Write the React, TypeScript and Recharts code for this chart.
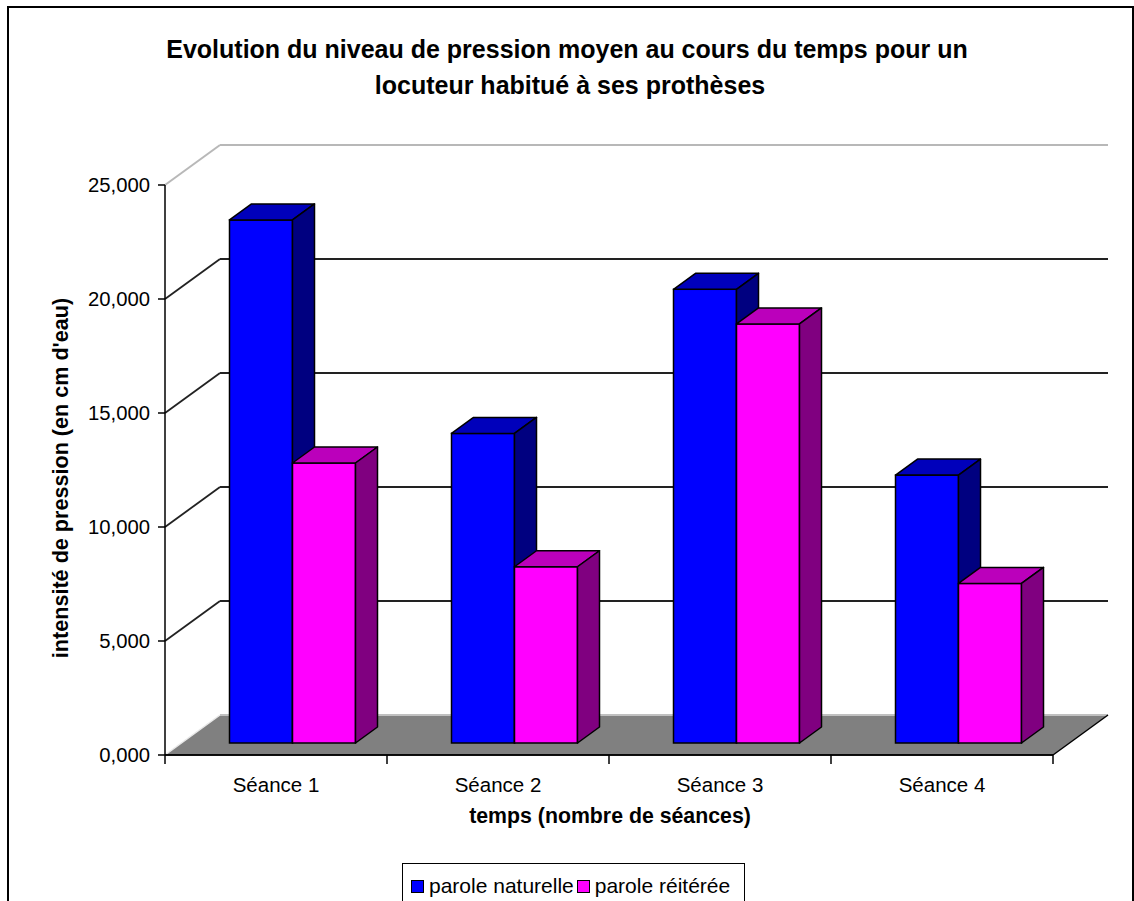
import React from 'react';
import { BarChart, Bar, XAxis, YAxis, ReferenceLine, Legend, Customized } from 'recharts';

const categories = ['Séance 1', 'Séance 2', 'Séance 3', 'Séance 4'];
const paroleNaturelle = [22.94, 13.58, 19.9, 11.75];
const paroleReiteree = [12.28, 7.73, 18.38, 7.0];
const yTicks = [0, 5, 10, 15, 20, 25];
const gridValues = [5, 10, 15, 20];
const seriesNames = ['parole naturelle', 'parole réitérée'];

const data = categories.map((c, i) => ({
  name: c,
  naturelle: paroleNaturelle[i],
  reiteree: paroleReiteree[i],
}));

const DX = 55;
const DY = 40;
const BAR_START = 0.3;
const BAR_DEPTH = 0.4;
const FONT = '"Liberation Sans", Arial, Helvetica, sans-serif';

const fmt = (v: number) => v.toFixed(3).replace('.', ',');

function make3DBar(front: string, top: string, side: string) {
  return (props: any) => {
    const { x, y, width, height } = props;
    if ([x, y, width, height].some((v) => typeof v !== 'number' || isNaN(v))) return <g />;
    const X = x + DX * BAR_START;
    const Y = y - DY * BAR_START;
    const bx = DX * BAR_DEPTH;
    const by = DY * BAR_DEPTH;
    const W = width;
    const H = height;
    return (
      <g>
        <rect x={X} y={Y} width={W} height={H} fill={front} stroke="#000" strokeWidth={1.5} />
        <polygon
          points={`${X},${Y} ${X + W},${Y} ${X + W + bx},${Y - by} ${X + bx},${Y - by}`}
          fill={top}
          stroke="#000"
          strokeWidth={1.5}
          strokeLinejoin="round"
        />
        <polygon
          points={`${X + W},${Y} ${X + W + bx},${Y - by} ${X + W + bx},${Y + H - by} ${X + W},${Y + H}`}
          fill={side}
          stroke="#000"
          strokeWidth={1.5}
          strokeLinejoin="round"
        />
      </g>
    );
  };
}

const wallLine = (color: string, w: number) => (p: any) => {
  const left = Math.min(p.x1, p.x2);
  const right = Math.max(p.x1, p.x2);
  const y = p.y1;
  return (
    <g>
      <line x1={left} y1={y} x2={left + DX} y2={y - DY} stroke={color} strokeWidth={w} />
      <line x1={left + DX} y1={y - DY} x2={right + DX} y2={y - DY} stroke={color} strokeWidth={w} />
    </g>
  );
};

const floorShape = (p: any) => {
  const left = Math.min(p.x1, p.x2);
  const right = Math.max(p.x1, p.x2);
  const y = p.y1;
  const n = categories.length;
  const ticks = [];
  for (let i = 0; i <= n; i++) {
    const tx = left + (i * (right - left)) / n;
    ticks.push(<line key={i} x1={tx} y1={y} x2={tx} y2={y + 9} stroke="#000" strokeWidth={1.5} />);
  }
  return (
    <g>
      <polygon
        points={`${left},${y} ${right},${y} ${right + DX},${y - DY} ${left + DX},${y - DY}`}
        fill="#808080"
      />
      <line x1={left} y1={y} x2={left + DX} y2={y - DY} stroke="#e8e8e8" strokeWidth={1.5} />
      <line x1={left + DX} y1={y - DY} x2={right + DX} y2={y - DY} stroke="#c0c0c0" strokeWidth={2} />
      <line x1={right} y1={y} x2={right + DX} y2={y - DY} stroke="#000" strokeWidth={1.5} />
      <line x1={left} y1={y} x2={right} y2={y} stroke="#000" strokeWidth={1.5} />
      {ticks}
    </g>
  );
};

const Titles = () => (
  <g fontFamily={FONT} fill="#000">
    <text x={567} y={58} textAnchor="middle" fontWeight="bold" fontSize={25}>
      Evolution du niveau de pression moyen au cours du temps pour un
    </text>
    <text x={570} y={94} textAnchor="middle" fontWeight="bold" fontSize={25}>
      locuteur habitué à ses prothèses
    </text>
    <text x={610} y={823} textAnchor="middle" fontWeight="bold" fontSize={21.3}>
      temps (nombre de séances)
    </text>
    <text
      x={68}
      y={478}
      textAnchor="middle"
      fontWeight="bold"
      fontSize={21.6}
      transform="rotate(-90, 68, 478)"
    >
      intensité de pression (en cm d'eau)
    </text>
  </g>
);

const LegendContent = (props: any) => {
  const payload = props.payload || [];
  return (
    <div
      style={{
        boxSizing: 'border-box',
        width: '100%',
        height: '100%',
        border: '1.5px solid #000',
        background: '#fff',
        display: 'flex',
        alignItems: 'flex-start',
        paddingLeft: 8,
        paddingTop: 10,
        fontFamily: FONT,
        fontSize: 21,
        lineHeight: '24px',
        color: '#000',
        whiteSpace: 'nowrap',
      }}
    >
      {payload.map((item: any, i: number) => (
        <span key={i} style={{ display: 'flex', alignItems: 'center', marginRight: 3 }}>
          <span
            style={{
              display: 'inline-block',
              width: 11,
              height: 11,
              background: item.color,
              border: '1px solid #000',
              marginRight: 5,
            }}
          />
          <span>{item.value}</span>
        </span>
      ))}
    </div>
  );
};

export default function App() {
  return (
    <div
      style={{
        position: 'absolute',
        left: 0,
        top: 0,
        width: 1134,
        height: 901,
        background: '#fff',
        overflow: 'hidden',
      }}
    >
      <div
        style={{
          position: 'absolute',
          left: 7,
          top: 6,
          width: 1127,
          height: 1000,
          boxSizing: 'border-box',
          border: '2px solid #000',
        }}
      />
      <div style={{ position: 'absolute', left: 0, top: 0 }}>
        <BarChart
          width={1134}
          height={901}
          data={data}
          margin={{ top: 185, right: 81, bottom: 86, left: 65 }}
          barCategoryGap={48}
          barGap={0}
        >
          <XAxis
            dataKey="name"
            height={60}
            tickLine={false}
            tickSize={0}
            tickMargin={22}
            axisLine={{ stroke: '#000', strokeWidth: 1.5 }}
            tick={{ fill: '#000', fontSize: 20.5, fontFamily: FONT }}
            interval={0}
          />
          <YAxis
            width={100}
            domain={[0, 25]}
            ticks={yTicks}
            tickFormatter={fmt}
            tickSize={7}
            tickMargin={8}
            axisLine={{ stroke: '#000', strokeWidth: 1.5 }}
            tickLine={{ stroke: '#000', strokeWidth: 1.5 }}
            tick={{ fill: '#000', fontSize: 20.3, fontFamily: FONT }}
            allowDataOverflow
          />
          <ReferenceLine y={0} shape={floorShape} zIndex={-50} />
          {gridValues.map((v) => (
            <ReferenceLine key={v} y={v} shape={wallLine('#222', 1.8)} zIndex={-50} />
          ))}
          <ReferenceLine y={25} shape={wallLine('#b8b8b8', 2)} zIndex={-50} />
          <Bar
            dataKey="naturelle"
            name={seriesNames[0]}
            fill="#0000FF"
            legendType="square"
            isAnimationActive={false}
            shape={make3DBar('#0000FF', '#0000BB', '#000080')}
          />
          <Bar
            dataKey="reiteree"
            name={seriesNames[1]}
            fill="#FF00FF"
            legendType="square"
            isAnimationActive={false}
            shape={make3DBar('#FF00FF', '#BB00BB', '#800080')}
          />
          <Legend
            layout="horizontal"
            verticalAlign="middle"
            align="center"
            content={<LegendContent />}
            wrapperStyle={{ position: 'absolute', left: 402, top: 863, bottom: 'auto', width: 343, height: 40 }}
          />
          <Customized component={Titles} />
        </BarChart>
      </div>
    </div>
  );
}
